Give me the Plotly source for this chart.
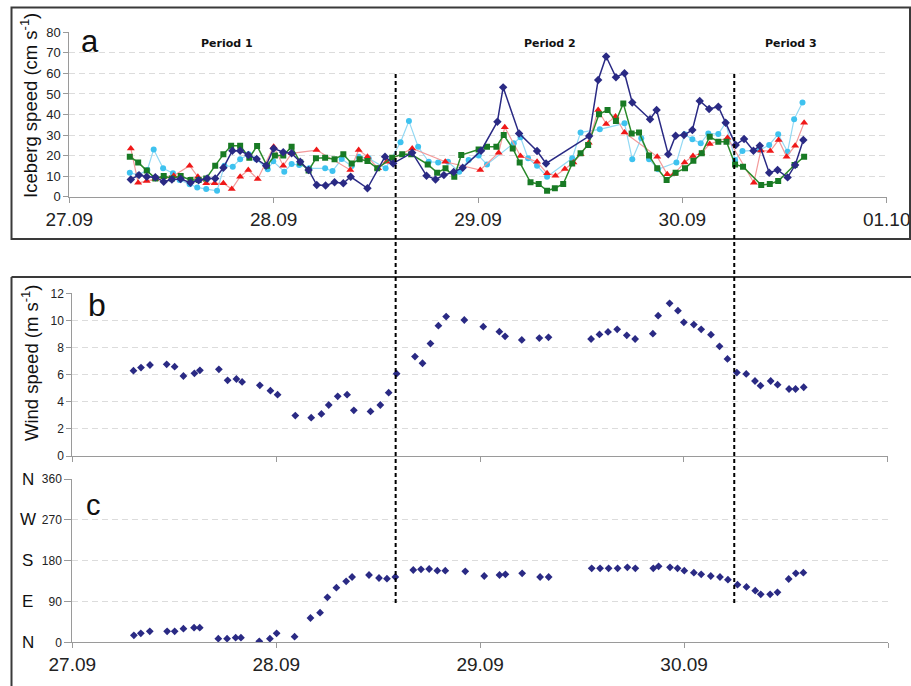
import plotly.graph_objects as go

# ---------------- data (x in days after 27.09 00:00) ----------------
tick_vals = [0, 1, 2, 3, 4]
tick_labels = ["27.09", "28.09", "29.09", "30.09", "01.10"]
period_bounds = [1.597, 3.254]
period_labels = ["Period 1", "Period 2", "Period 3"]
period_label_x = [0.77, 2.35, 3.53]

navy_x = [0.301, 0.341, 0.379, 0.421, 0.462, 0.502, 0.545, 0.593, 0.633, 0.675, 0.714, 0.754,
          0.798, 0.836, 0.876, 0.917, 0.963, 1.000, 1.047, 1.088, 1.130, 1.171, 1.211, 1.254,
          1.298, 1.341, 1.377, 1.459, 1.545, 1.585, 1.678, 1.748, 1.792, 1.833, 1.881, 1.925,
          2.015, 2.095, 2.123, 2.201, 2.289, 2.333, 2.544, 2.588, 2.627, 2.675, 2.717, 2.755,
          2.842, 2.874, 2.931, 2.967, 3.008, 3.049, 3.085, 3.131, 3.176, 3.212, 3.261, 3.302,
          3.348, 3.379, 3.425, 3.466, 3.515, 3.552, 3.592]
navy_y = [8.4, 10.5, 9.7, 9.5, 7.3, 8.4, 8.6, 6.8, 8.0, 8.9, 8.9, 14.1,
          22.4, 22.4, 20.3, 18.3, 15.1, 23.5, 21.6, 21.1, 17.0, 13.0, 5.7, 5.4,
          7.0, 6.5, 9.7, 4.1, 19.5, 16.2, 21.4, 10.2, 8.4, 10.5, 12.0, 14.1,
          22.4, 36.5, 53.2, 30.8, 22.2, 16.2, 29.5, 56.8, 68.2, 58.1, 60.1, 45.8,
          37.7, 42.2, 20.6, 29.7, 30.0, 32.5, 46.6, 42.7, 43.8, 36.0, 25.2, 28.1,
          22.4, 24.8, 11.7, 13.0, 9.4, 15.4, 27.6]

red_x = [0.301, 0.337, 0.379, 0.421, 0.462, 0.511, 0.589, 0.629, 0.670, 0.711, 0.754, 0.795,
         0.836, 0.876, 0.922, 1.000, 1.047, 1.088, 1.210, 1.375, 1.416, 1.459, 1.511, 1.553,
         1.678, 1.840, 2.011, 2.101, 2.131, 2.208, 2.289, 2.338, 2.379, 2.425, 2.467, 2.502,
         2.542, 2.588, 2.627, 2.673, 2.717, 2.877, 2.926, 2.959, 3.011, 3.052, 3.093, 3.134,
         3.221, 3.350, 3.384, 3.430, 3.471, 3.510, 3.552, 3.596]
red_y = [23.5, 6.8, 7.6, 8.6, 9.7, 10.2, 15.1, 9.7, 6.5, 6.5, 6.5, 3.7,
         9.7, 13.0, 8.6, 24.3, 15.1, 21.1, 22.7, 13.0, 22.7, 19.5, 13.8, 17.0,
         23.5, 17.0, 13.0, 21.4, 33.8, 19.8, 17.0, 11.4, 10.2, 13.5, 16.6, 20.6,
         26.3, 42.2, 35.4, 39.0, 31.2, 19.5, 10.9, 11.0, 16.7, 19.8, 21.1, 25.6,
         28.7, 6.8, 22.5, 22.2, 27.6, 19.5, 24.8, 36.0]

green_x = [0.296, 0.337, 0.379, 0.421, 0.462, 0.502, 0.545, 0.593, 0.633, 0.670, 0.714, 0.754,
           0.792, 0.836, 0.881, 0.919, 0.967, 1.006, 1.047, 1.088, 1.130, 1.171, 1.207, 1.252,
           1.298, 1.341, 1.382, 1.421, 1.459, 1.507, 1.580, 1.629, 1.673, 1.754, 1.800, 1.841,
           1.884, 1.918, 2.003, 2.044, 2.090, 2.126, 2.170, 2.204, 2.257, 2.297, 2.338, 2.376,
           2.417, 2.461, 2.502, 2.539, 2.592, 2.634, 2.675, 2.711, 2.752, 2.788, 2.837, 2.877,
           2.923, 2.967, 3.013, 3.054, 3.095, 3.134, 3.176, 3.216, 3.258, 3.297, 3.386, 3.428,
           3.469, 3.549, 3.596]
green_y = [19.5, 16.7, 12.7, 8.9, 10.1, 8.9, 10.1, 8.1, 8.1, 8.9, 15.1, 20.6,
           24.8, 24.8, 19.0, 24.7, 15.1, 20.0, 20.0, 24.3, 16.7, 12.7, 18.7, 19.0,
           18.2, 20.6, 16.2, 18.2, 17.4, 13.8, 19.0, 20.6, 20.6, 15.7, 11.7, 13.8,
           9.7, 20.3, 23.0, 24.3, 24.3, 30.0, 23.5, 16.7, 7.0, 6.2, 2.9, 4.1,
           6.2, 16.2, 21.1, 25.2, 40.1, 42.2, 36.8, 45.4, 30.8, 31.3, 20.0, 13.8,
           8.1, 11.7, 13.8, 17.5, 21.1, 29.2, 26.8, 26.8, 15.7, 14.6, 5.7, 6.2,
           7.6, 15.4, 19.5]

cyan_x = [0.296, 0.337, 0.382, 0.413, 0.459, 0.507, 0.540, 0.589, 0.626, 0.670, 0.723, 0.759,
          0.800, 0.836, 0.878, 0.914, 0.971, 0.998, 1.052, 1.088, 1.125, 1.174, 1.252, 1.288,
          1.333, 1.382, 1.416, 1.465, 1.548, 1.621, 1.662, 1.707, 1.759, 1.805, 1.853, 1.908,
          1.954, 2.003, 2.044, 2.175, 2.208, 2.245, 2.289, 2.338, 2.461, 2.502, 2.596, 2.717,
          2.755, 2.799, 2.837, 2.881, 2.971, 3.011, 3.049, 3.090, 3.127, 3.176, 3.212, 3.258,
          3.294, 3.379, 3.425, 3.469, 3.515, 3.547, 3.588]
cyan_y = [11.7, 10.5, 13.0, 23.0, 13.8, 11.4, 8.1, 6.0, 4.5, 3.7, 2.9, 15.1,
          14.6, 18.2, 20.6, 18.3, 13.3, 17.2, 12.2, 15.9, 15.4, 13.8, 13.8, 12.5,
          18.3, 14.9, 19.5, 18.7, 13.8, 26.5, 36.8, 24.3, 17.0, 16.7, 17.0, 12.2,
          17.9, 20.0, 15.7, 26.0, 28.9, 18.7, 15.1, 9.7, 18.7, 31.3, 32.8, 35.7,
          18.2, 28.4, 18.2, 13.3, 16.7, 30.4, 27.9, 26.0, 30.8, 30.5, 36.0, 17.9,
          22.2, 22.7, 25.2, 30.4, 21.9, 37.7, 45.8]

wind_x = [0.300, 0.337, 0.381, 0.463, 0.502, 0.545, 0.599, 0.626, 0.719, 0.762, 0.805, 0.833,
          0.920, 0.972, 1.007, 1.094, 1.172, 1.222, 1.258, 1.302, 1.348, 1.381, 1.463, 1.511,
          1.552, 1.591, 1.681, 1.718, 1.757, 1.796, 1.834, 1.923, 2.016, 2.095, 2.123, 2.205,
          2.291, 2.336, 2.545, 2.586, 2.628, 2.673, 2.720, 2.761, 2.848, 2.874, 2.930, 2.971,
          3.000, 3.049, 3.085, 3.133, 3.175, 3.214, 3.260, 3.306, 3.349, 3.376, 3.426, 3.460,
          3.516, 3.548, 3.588]
wind_speed = [6.29, 6.52, 6.71, 6.76, 6.59, 5.90, 6.10, 6.32, 6.39, 5.58, 5.68, 5.46,
              5.21, 4.82, 4.52, 2.98, 2.83, 3.10, 3.76, 4.40, 4.52, 3.37, 3.29, 3.76,
              4.67, 6.07, 7.33, 6.84, 8.29, 9.61, 10.28, 10.03, 9.54, 9.17, 8.83, 8.56,
              8.70, 8.75, 8.63, 8.97, 9.15, 9.34, 8.90, 8.63, 9.02, 10.35, 11.26, 10.72,
              9.86, 9.69, 9.34, 8.95, 8.09, 7.16, 6.15, 6.05, 5.53, 5.19, 5.53, 5.26,
              4.94, 4.94, 5.07]

dir_x = [0.302, 0.336, 0.380, 0.465, 0.502, 0.545, 0.597, 0.625, 0.716, 0.759, 0.801, 0.827,
         0.917, 0.969, 1.002, 1.090, 1.168, 1.215, 1.251, 1.295, 1.343, 1.372, 1.455, 1.504,
         1.543, 1.584, 1.672, 1.710, 1.750, 1.790, 1.829, 1.927, 2.020, 2.095, 2.124, 2.206,
         2.294, 2.336, 2.547, 2.588, 2.630, 2.674, 2.722, 2.761, 2.849, 2.875, 2.931, 2.968,
         3.001, 3.048, 3.084, 3.131, 3.176, 3.215, 3.262, 3.306, 3.349, 3.376, 3.422, 3.458,
         3.513, 3.548, 3.585]
wind_dir = [15.4, 19.8, 24.2, 24.2, 24.2, 30.1, 32.3, 32.3, 8.1, 8.1, 10.3, 10.3,
            2.2, 8.1, 19.8, 12.5, 53.6, 65.4, 99.2, 120.5, 134.4, 144.0, 148.4, 141.8,
            140.3, 144.0, 159.4, 160.9, 161.6, 158.0, 158.0, 156.5, 146.2, 148.4, 149.9, 152.1,
            144.0, 144.0, 163.1, 163.1, 163.1, 163.1, 165.3, 163.1, 163.1, 167.5, 165.3, 163.1,
            158.0, 153.6, 149.9, 146.2, 144.0, 138.1, 127.1, 122.0, 113.9, 105.8, 105.8, 110.2,
            139.6, 152.1, 153.6]

dir_ticks = [0, 90, 180, 270, 360]
dir_letters = ["N", "E", "S", "W", "N"]

# ---------------- figure ----------------
W, H = 911, 686
FONT = "Liberation Sans, Arial, sans-serif"
NAVY = "#2a2a84"


def px(x):
    return x / W


def py(y):
    return 1 - y / H


fig = go.Figure()

fig.add_trace(go.Scatter(x=cyan_x, y=cyan_y, mode="lines+markers", xaxis="x", yaxis="y",
                         line=dict(color="#93d9f4", width=1.2),
                         marker=dict(symbol="circle", size=6, color="#3ec2ef")))
fig.add_trace(go.Scatter(x=red_x, y=red_y, mode="lines+markers", xaxis="x", yaxis="y",
                         line=dict(color="#f39a9a", width=1.2),
                         marker=dict(symbol="triangle-up", size=7, color="#f01818")))
fig.add_trace(go.Scatter(x=green_x, y=green_y, mode="lines+markers", xaxis="x", yaxis="y",
                         line=dict(color="#2a8a2a", width=1.5),
                         marker=dict(symbol="square", size=6, color="#187a24")))
fig.add_trace(go.Scatter(x=navy_x, y=navy_y, mode="lines+markers", xaxis="x", yaxis="y",
                         line=dict(color=NAVY, width=1.5),
                         marker=dict(symbol="diamond", size=6.5, color=NAVY)))

fig.add_trace(go.Scatter(x=wind_x, y=wind_speed, mode="markers", xaxis="x2", yaxis="y2",
                         marker=dict(symbol="diamond", size=6, color=NAVY)))
fig.add_trace(go.Scatter(x=dir_x, y=wind_dir, mode="markers", xaxis="x3", yaxis="y3",
                         marker=dict(symbol="diamond", size=6, color=NAVY)))


def axis_common(fs):
    return dict(showline=True, linecolor="#9a9a9a", linewidth=1, zeroline=False,
                ticks="outside", tickcolor="#9a9a9a", ticklen=5, automargin=False,
                tickfont=dict(family=FONT, color="#222", size=fs))


grid_common = dict(showgrid=True, gridcolor="#dcdcdc", griddash="6px,4px", gridwidth=1)

fig.update_layout(
    width=W, height=H, autosize=False,
    margin=dict(l=0, r=0, t=0, b=0, pad=0, autoexpand=False),
    paper_bgcolor="white", plot_bgcolor="white",
    showlegend=False,
    xaxis=dict(domain=[px(69.3), px(886.7)], anchor="y", range=[0, 4], tickvals=tick_vals,
               ticktext=tick_labels, showgrid=False, **axis_common(19)),
    yaxis=dict(domain=[py(196.7), py(32.3)], anchor="x", range=[0, 80], dtick=10,
               **axis_common(13), **grid_common),
    xaxis2=dict(domain=[px(72.3), px(887.7)], anchor="y2", range=[0, 4], tickvals=tick_vals,
                showticklabels=False, showgrid=False, **axis_common(12)),
    yaxis2=dict(domain=[py(456), py(293.3)], anchor="x2", range=[0, 12], dtick=2,
                **axis_common(12), **grid_common),
    xaxis3=dict(domain=[px(72.3), px(888)], anchor="y3", range=[0, 4], tickvals=tick_vals,
                ticktext=tick_labels, showgrid=False, **axis_common(19)),
    yaxis3=dict(domain=[py(642.3), py(479)], anchor="x3", range=[0, 360], tickvals=dir_ticks,
                **axis_common(12), **grid_common),
)
fig.layout.yaxis3.ticklen = 7

shapes = []
# frames
shapes.append(dict(type="rect", xref="paper", yref="paper", x0=px(11.5), x1=px(910), y0=py(239), y1=py(7.5),
                   line=dict(color="#3a3a3a", width=2)))
shapes.append(dict(type="line", xref="paper", yref="paper", x0=px(11.5), x1=px(915), y0=py(277), y1=py(277),
                   line=dict(color="#3a3a3a", width=2)))
shapes.append(dict(type="line", xref="paper", yref="paper", x0=px(11.5), x1=px(11.5), y0=py(277), y1=py(690),
                   line=dict(color="#3a3a3a", width=2)))
# period boundaries
for xb in period_bounds:
    shapes.append(dict(type="line", xref="x", yref="paper", x0=xb, x1=xb, y0=py(603), y1=py(72),
                       line=dict(color="black", width=2, dash="4px,3px")))
fig.update_layout(shapes=shapes)

C = dict(xanchor="center", yanchor="middle", showarrow=False)
ann = []
for lab, lx in zip(period_labels, period_label_x):
    ann.append(dict(x=lx, y=py(43), xref="x", yref="paper", text="<b>" + lab + "</b>", **C,
                    font=dict(family="DejaVu Sans, Verdana, sans-serif", size=11, color="#111")))
for letter, lxp, lyp, fs in [("a", 90, 42, 31), ("b", 97, 305, 32), ("c", 93, 505, 29)]:
    ann.append(dict(x=px(lxp), y=py(lyp), xref="paper", yref="paper", text=letter, **C,
                    font=dict(family=FONT, size=fs, color="#111")))
ann.append(dict(x=px(29), y=py(106), xref="paper", yref="paper", textangle=-90, **C,
                text="Iceberg speed (cm s<sup>-1</sup>)", font=dict(family=FONT, size=18.5, color="#111")))
ann.append(dict(x=px(30), y=py(363), xref="paper", yref="paper", textangle=-90, **C,
                text="Wind speed (m s<sup>-1</sup>)", font=dict(family=FONT, size=18.5, color="#111")))
for letter, dv in zip(dir_letters, dir_ticks):
    ann.append(dict(x=px(27.5), y=dv, xref="paper", yref="y3", text=letter, **C,
                    font=dict(family=FONT, size=17, color="#111")))
fig.update_layout(annotations=ann)

fig.write_html("out.html")
